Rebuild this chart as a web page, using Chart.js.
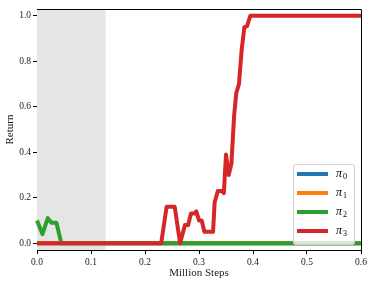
<!DOCTYPE html>
<html>
<head>
<meta charset="utf-8">
<script src="https://cdn.jsdelivr.net/npm/chart.js@4.4.0/dist/chart.umd.min.js"></script>
<style>
  html, body { margin: 0; padding: 0; background: #fff; }
  #wrap { width: 374px; height: 285px; }
</style>
</head>
<body>
<div id="wrap"><canvas id="myChart"></canvas></div>
<script>
// Data (x in million steps)
const seriesLabels = ['0', '1', '2', '3'];
const seriesColors = ['#1f77b4', '#ff7f0e', '#2ca02c', '#d62728'];

const stepsPi0 = [0, 0.6];
const returnPi0 = [0, 0];
const stepsPi1 = [0, 0.6];
const returnPi1 = [0, 0];
const stepsPi2 = [0, 0.01, 0.02, 0.027, 0.036, 0.045, 0.6];
const returnPi2 = [0.10, 0.04, 0.11, 0.09, 0.09, 0, 0];
const stepsPi3 = [0, 0.23, 0.24, 0.255, 0.265, 0.274, 0.28, 0.285, 0.291, 0.295, 0.30, 0.305, 0.31, 0.326, 0.329, 0.335, 0.342, 0.346, 0.350, 0.355, 0.36, 0.365, 0.369, 0.374, 0.379, 0.384, 0.389, 0.395, 0.6];
const returnPi3 = [0, 0, 0.16, 0.16, 0, 0.08, 0.08, 0.13, 0.13, 0.14, 0.10, 0.10, 0.05, 0.05, 0.18, 0.23, 0.23, 0.22, 0.39, 0.30, 0.35, 0.56, 0.66, 0.70, 0.85, 0.95, 0.955, 1.0, 1.0];

const shadeEnd = 0.127; // grey warm-up region
const serif = "'Liberation Serif', 'DejaVu Serif', serif";

const allSteps = [stepsPi0, stepsPi1, stepsPi2, stepsPi3];
const allReturns = [returnPi0, returnPi1, returnPi2, returnPi3];

// later series on top (lower order = drawn last in Chart.js)
const datasets = allSteps.map((xs, i) => ({
    label: 'π' + seriesLabels[i],
    data: xs.map((x, j) => ({ x: x, y: allReturns[i][j] })),
    order: allSteps.length - 1 - i,
    borderColor: seriesColors[i],
    backgroundColor: seriesColors[i],
    borderWidth: 4,
    pointRadius: 0,
    tension: 0,
    borderJoinStyle: 'round',
    borderCapStyle: 'butt',
    clip: 4
}));

// shaded region + top/right frame + inside legend
const extras = {
    id: 'extras',
    beforeDatasetsDraw(chart) {
        const { ctx, chartArea, scales } = chart;
        const x1 = scales.x.getPixelForValue(shadeEnd);
        ctx.save();
        ctx.fillStyle = '#e5e5e5';
        ctx.fillRect(chartArea.left, chartArea.top, x1 - chartArea.left, chartArea.bottom - chartArea.top);
        ctx.restore();
    },
    afterDraw(chart) {
        const { ctx, chartArea } = chart;
        ctx.save();
        ctx.strokeStyle = '#000';
        ctx.lineWidth = 1;
        ctx.beginPath();
        ctx.moveTo(chartArea.left, chartArea.top + 0.5);
        ctx.lineTo(chartArea.right + 0.5, chartArea.top + 0.5);
        ctx.lineTo(chartArea.right + 0.5, chartArea.bottom);
        ctx.stroke();

        // legend box
        const w = 61, h = 80;
        const bx = chartArea.right - 7 - w;
        const by = chartArea.bottom - 6 - h;
        ctx.fillStyle = 'rgba(255,255,255,0.8)';
        ctx.strokeStyle = '#d0d0d0';
        ctx.beginPath();
        ctx.roundRect(bx + 0.5, by + 0.5, w, h, 2);
        ctx.fill();
        ctx.stroke();
        seriesColors.forEach((c, i) => {
            const yy = by + 10 + i * 19;
            ctx.strokeStyle = c;
            ctx.lineWidth = 4;
            ctx.beginPath();
            ctx.moveTo(bx + 4, yy);
            ctx.lineTo(bx + 35, yy);
            ctx.stroke();
            ctx.fillStyle = '#000';
            ctx.textBaseline = 'middle';
            ctx.font = 'italic 12px ' + serif;
            ctx.fillText('π', bx + 43, yy);
            ctx.font = '8px ' + serif;
            ctx.fillText(seriesLabels[i], bx + 50, yy + 3);
        });
        ctx.restore();
    }
};

new Chart(document.getElementById('myChart'), {
    type: 'line',
    data: { datasets: datasets },
    options: {
        responsive: true,
        maintainAspectRatio: false,
        animation: false,
        layout: { padding: { top: 9, right: 13, left: 0, bottom: 0 } },
        plugins: { legend: { display: false }, tooltip: { enabled: false } },
        scales: {
            x: {
                type: 'linear',
                min: 0,
                max: 0.6,
                afterFit(scale) { scale.height = 35; },
                grid: { drawOnChartArea: false, drawTicks: true, tickLength: 4, color: '#000' },
                border: { display: true, color: '#000', width: 1 },
                ticks: {
                    stepSize: 0.1,
                    includeBounds: false,
                    color: '#222',
                    padding: 3,
                    maxRotation: 0,
                    font: { family: serif, size: 9.5 },
                    callback: v => v.toFixed(1)
                },
                title: {
                    display: true,
                    text: 'Million Steps',
                    color: '#222',
                    font: { family: serif, size: 11 },
                    padding: { top: 0, bottom: 5 }
                }
            },
            y: {
                type: 'linear',
                min: -0.03,
                max: 1.03,
                afterFit(scale) { scale.width = 37; },
                grid: { drawOnChartArea: false, drawTicks: true, tickLength: 4, color: '#000' },
                border: { display: true, color: '#000', width: 1 },
                ticks: {
                    stepSize: 0.2,
                    includeBounds: false,
                    color: '#222',
                    padding: 2,
                    font: { family: serif, size: 9.5 },
                    callback: v => v.toFixed(1)
                },
                title: {
                    display: true,
                    text: 'Return',
                    color: '#222',
                    font: { family: serif, size: 11 },
                    padding: { top: 4, bottom: 0 }
                }
            }
        }
    },
    plugins: [extras]
});
</script>
</body>
</html>
